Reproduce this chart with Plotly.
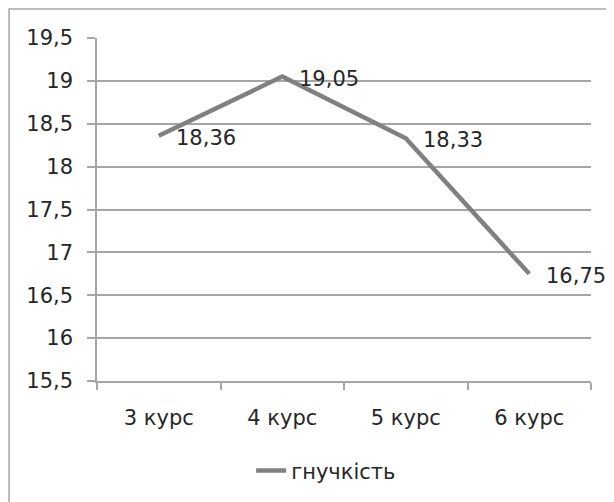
import plotly.graph_objects as go

categories = ["3 курс", "4 курс", "5 курс", "6 курс"]
values = [18.36, 19.05, 18.33, 16.75]
series_name = "гнучкість"
y_ticks = [15.5, 16, 16.5, 17, 17.5, 18, 18.5, 19, 19.5]

FONT = "DejaVu Sans"
FS = 21
TXT = "#262626"
GRID = "#a6a6a6"

fig = go.Figure()
fig.add_trace(go.Scatter(
    x=categories, y=values, mode="lines", name=series_name,
    line=dict(color="#808080", width=4.5),
    showlegend=True,
))

for c, v in zip(categories, values):
    fig.add_annotation(
        x=c, y=v, text=f"{v:.2f}".replace(".", ","), showarrow=False,
        xanchor="left", yanchor="middle", xshift=15, yshift=-2,
        font=dict(family=FONT, size=FS, color=TXT),
    )

# outer frame (right and bottom sides fall outside the image)
fig.add_shape(type="rect", xref="paper", yref="paper",
              x0=-0.178, x1=1.1, y0=-0.45, y1=1.0845,
              line=dict(color="#a6a6a6", width=1.5), layer="below")

fig.update_layout(
    width=614, height=502,
    margin=dict(l=89, r=31, t=30, b=129),
    paper_bgcolor="white", plot_bgcolor="white",
    separators=", ",
    font=dict(family=FONT, size=FS, color=TXT),
    legend=dict(orientation="h", x=0.312, y=-0.262, xanchor="left", yanchor="middle",
                font=dict(family=FONT, size=FS, color=TXT), itemwidth=30),
    xaxis=dict(
        type="category", showgrid=False, showline=True, linecolor=GRID, linewidth=1.5,
        ticks="outside", tickson="boundaries", ticklen=7, tickcolor=GRID, tickwidth=1.5,
        ticklabelstandoff=17, range=[-0.5, 3.5],
    ),
    yaxis=dict(
        range=[15.5, 19.5], tickvals=y_ticks, showgrid=True, gridcolor=GRID, gridwidth=1.5,
        showline=True, linecolor=GRID, linewidth=1.5, zeroline=False,
        ticks="outside", ticklen=8, tickcolor=GRID, tickwidth=1.5,
        ticklabelstandoff=10,
    ),
)

fig.write_html("out.html")
